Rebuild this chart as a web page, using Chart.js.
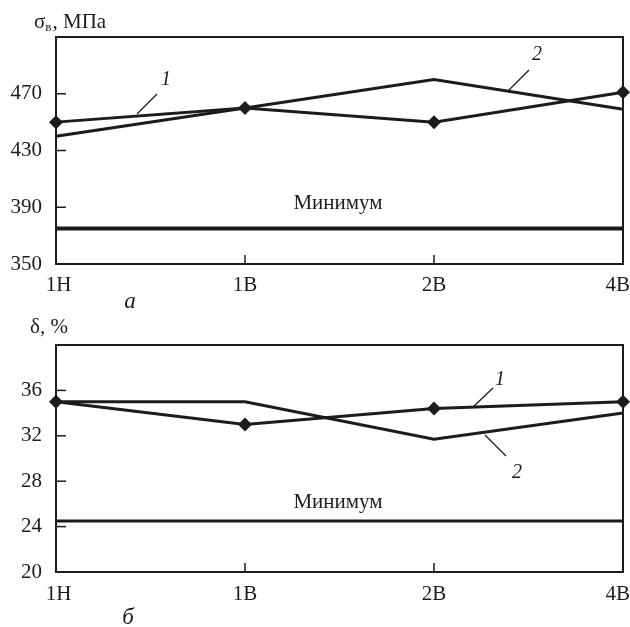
<!DOCTYPE html>
<html>
<head>
<meta charset="utf-8">
<script src="https://cdn.jsdelivr.net/npm/chart.js@4.4.1/dist/chart.umd.min.js"></script>
<style>
  html, body { margin: 0; padding: 0; background: #fff; overflow: hidden; }
  #wrap { position: relative; width: 630px; height: 627px; }
  .box { position: absolute; left: 0; width: 630px; }
  #boxA { top: 0; height: 310px; }
  #boxB { top: 310px; height: 317px; }
</style>
</head>
<body>
<div id="wrap">
  <div class="box" id="boxA"><canvas id="chartA"></canvas></div>
  <div class="box" id="boxB"><canvas id="chartB"></canvas></div>
</div>
<script>
// ---- data ----
const categories = ['1Н', '1В', '2В', '4В'];
const strengthCurve1 = [450, 460, 450, 471];
const strengthCurve2 = [440, 460, 480, 459];
const strengthMinimum = [375, 375, 375, 375];
const strengthTicks = [350, 390, 430, 470];
const elongCurve1 = [35, 33, 34.4, 35];
const elongCurve2 = [35, 35, 31.7, 34];
const elongMinimum = [24.5, 24.5, 24.5, 24.5];
const elongTicks = [20, 24, 28, 32, 36];

const INK = '#1c1c1c';
const SERIF = '"Liberation Serif", "DejaVu Serif", serif';
const FS = 21;

// plugin: frame, inward ticks, annotations
const decor = {
  id: 'decor',
  afterDatasetsDraw(chart, args, opts) {
    const ctx = chart.ctx;
    const a = chart.chartArea;
    const xs = chart.scales.x, ys = chart.scales.y;
    ctx.save();
    // frame
    ctx.strokeStyle = INK;
    ctx.lineWidth = 2;
    ctx.strokeRect(a.left, a.top, a.right - a.left, a.bottom - a.top);
    // inward ticks
    ctx.lineWidth = 1.5;
    ys.ticks.forEach((t) => {
      const y = ys.getPixelForValue(t.value);
      if (Math.abs(y - a.bottom) < 2) return;
      ctx.beginPath(); ctx.moveTo(a.left, y); ctx.lineTo(a.left + 10, y); ctx.stroke();
    });
    for (let i = 1; i < categories.length - 1; i++) {
      const x = xs.getPixelForValue(i);
      ctx.beginPath(); ctx.moveTo(x, a.bottom); ctx.lineTo(x, a.bottom - 9); ctx.stroke();
    }
    // "Минимум"
    ctx.fillStyle = INK;
    ctx.font = FS + 'px ' + SERIF;
    ctx.textAlign = 'center';
    ctx.textBaseline = 'alphabetic';
    const minVal = chart.data.datasets[2].data[0];
    ctx.fillText('Минимум', 338, ys.getPixelForValue(minVal) + opts.minOffset);
    // curve labels with leader lines
    ctx.lineWidth = 1.3;
    opts.labels.forEach(l => {
      ctx.beginPath(); ctx.moveTo(l.x1, l.y1); ctx.lineTo(l.x2, l.y2); ctx.stroke();
      ctx.font = 'italic 20px ' + SERIF;
      ctx.textAlign = 'center';
      ctx.textBaseline = 'middle';
      ctx.fillText(l.text, l.tx, l.ty);
    });
    // axis title
    ctx.textAlign = 'left';
    ctx.textBaseline = 'alphabetic';
    let x = opts.titleX;
    opts.title.forEach(part => {
      ctx.font = (part.sub ? '13px ' : FS + 'px ') + SERIF;
      ctx.fillText(part.t, x, opts.titleY + (part.sub ? 3 : 0));
      x += ctx.measureText(part.t).width + (part.sub ? 1 : 0);
    });
    // panel letter
    ctx.font = 'italic 23px ' + SERIF;
    ctx.textAlign = 'center';
    ctx.fillText(opts.letter, opts.letterX, opts.letterY);
    ctx.restore();
  }
};

function makeChart(id, c1, c2, cmin, tickVals, yMin, yMax, padTop, xHeight, xPad, minWidth, decorOpts) {
  return new Chart(document.getElementById(id), {
    type: 'line',
    data: {
      labels: categories,
      datasets: [
        { data: c1, borderColor: INK, backgroundColor: INK, borderWidth: 3,
          pointStyle: 'rectRot', pointRadius: 7, pointBackgroundColor: INK, pointBorderColor: INK, pointBorderWidth: 0, clip: false },
        { data: c2, borderColor: INK, borderWidth: 3, pointRadius: 0 },
        { data: cmin, borderColor: INK, borderWidth: minWidth, pointRadius: 0 }
      ]
    },
    options: {
      responsive: true,
      maintainAspectRatio: false,
      animation: false,
      events: [],
      layout: { padding: { left: 0, right: 7, top: padTop, bottom: 0 } },
      plugins: { legend: { display: false }, tooltip: { enabled: false }, decor: decorOpts },
      scales: {
        x: {
          offset: false,
          grid: { display: false, drawTicks: false },
          border: { display: false },
          ticks: {
            color: INK, font: { family: SERIF, size: FS }, padding: xPad, maxRotation: 0, autoSkip: false,
            callback(v, i) {
              const t = categories[i];
              if (i === categories.length - 1) return t + '  ';
              if (i === 0) return ' ' + t;
              return t;
            }
          },
          afterFit(s) { s.height = xHeight; s.paddingLeft = 0; s.paddingRight = 0; }
        },
        y: {
          min: yMin, max: yMax,
          grid: { display: false, drawTicks: false },
          border: { display: false },
          afterBuildTicks(s) { s.ticks = tickVals.map(v => ({ value: v })); },
          ticks: { color: INK, font: { family: SERIF, size: FS }, padding: 14 },
          afterFit(s) { s.width = 56; s.paddingTop = 0; s.paddingBottom = 0; }
        }
      }
    },
    plugins: [decor]
  });
}

makeChart('chartA', strengthCurve1, strengthCurve2, strengthMinimum, strengthTicks, 350, 510, 37, 46, 9, 4, {
  minOffset: -20,
  labels: [
    { text: '1', tx: 166, ty: 80, x1: 157, y1: 94, x2: 137, y2: 114 },
    { text: '2', tx: 537, ty: 55, x1: 529, y1: 70, x2: 508, y2: 91 }
  ],
  title: [{ t: 'σ' }, { t: 'в', sub: true }, { t: ', МПа' }],
  titleX: 34, titleY: 28,
  letter: 'а', letterX: 130, letterY: 308
});

makeChart('chartB', elongCurve1, elongCurve2, elongMinimum, elongTicks, 20, 40, 35, 55, 10, 3, {
  minOffset: -13,
  labels: [
    { text: '1', tx: 500, ty: 70, x1: 493, y1: 78, x2: 473, y2: 97 },
    { text: '2', tx: 517, ty: 163, x1: 485, y1: 125, x2: 506, y2: 146 }
  ],
  title: [{ t: 'δ, %' }],
  titleX: 30, titleY: 23,
  letter: 'б', letterX: 128, letterY: 314
});
</script>
</body>
</html>
